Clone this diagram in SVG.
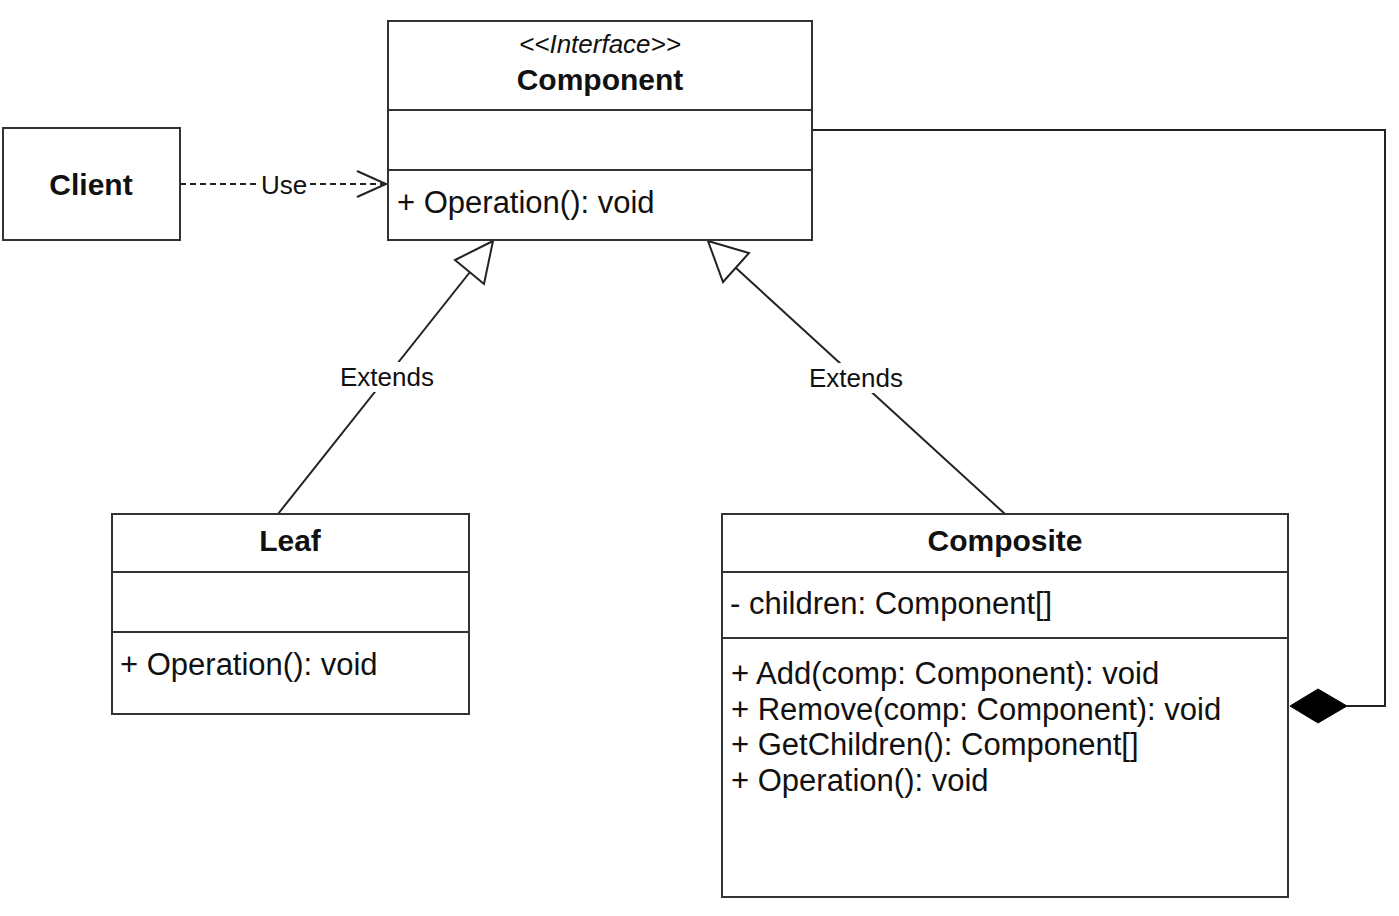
<svg xmlns="http://www.w3.org/2000/svg" width="1399" height="916" viewBox="0 0 1399 916">
<style>
.box{fill:#fff;stroke:#333;stroke-width:2}
.div{stroke:#333;stroke-width:2}
.t{font-family:"Liberation Sans",Arial,sans-serif;fill:#111}
.b{font-weight:bold;font-size:30px}
.m{font-size:31px}
.l{font-size:26px}
.line{fill:none;stroke:#222;stroke-width:2}
</style>
<rect width="1399" height="916" fill="#fff"/>
<g id="connectors">
  <line class="line" x1="180" y1="184" x2="386" y2="184" stroke-dasharray="6,4"/>
  <polyline class="line" points="357,171 386,184 357,197"/>
  <rect x="258" y="170" width="52" height="28" fill="#fff"/>
  <text class="t l" x="284" y="194" text-anchor="middle">Use</text>

  <line class="line" x1="278" y1="514" x2="470" y2="272"/>
  <polygon class="line" fill="#fff" points="493,241 455,260 484,284"/>
  <rect x="336" y="362" width="102" height="30" fill="#fff"/>
  <text class="t l" x="387" y="386" text-anchor="middle">Extends</text>

  <line class="line" x1="1005" y1="514" x2="736" y2="268"/>
  <polygon class="line" fill="#fff" points="708,241 749,253 723,282"/>
  <rect x="805" y="363" width="102" height="30" fill="#fff"/>
  <text class="t l" x="856" y="387" text-anchor="middle">Extends</text>

  <polyline class="line" points="812,130 1385,130 1385,706 1347,706"/>
  <polygon fill="#000" stroke="#000" stroke-width="1" points="1290,706 1318,689 1347,706 1318,723"/>
</g>
<g id="component">
  <rect class="box" x="388" y="21" width="424" height="219"/>
  <line class="div" x1="388" y1="110" x2="812" y2="110"/>
  <line class="div" x1="388" y1="170" x2="812" y2="170"/>
  <text class="t l" x="600" y="53" text-anchor="middle" font-style="italic" font-size="24">&lt;&lt;Interface&gt;&gt;</text>
  <text class="t b" x="600" y="90" text-anchor="middle">Component</text>
  <text class="t m" x="397" y="213">+ Operation(): void</text>
</g>
<g id="client">
  <rect class="box" x="3" y="128" width="177" height="112"/>
  <text class="t b" x="91" y="195" text-anchor="middle" font-size="29">Client</text>
</g>
<g id="leaf">
  <rect class="box" x="112" y="514" width="357" height="200"/>
  <line class="div" x1="112" y1="572" x2="469" y2="572"/>
  <line class="div" x1="112" y1="632" x2="469" y2="632"/>
  <text class="t b" x="290" y="551" text-anchor="middle">Leaf</text>
  <text class="t m" x="120" y="675">+ Operation(): void</text>
</g>
<g id="composite">
  <rect class="box" x="722" y="514" width="566" height="383"/>
  <line class="div" x1="722" y1="572" x2="1288" y2="572"/>
  <line class="div" x1="722" y1="638" x2="1288" y2="638"/>
  <text class="t b" x="1005" y="551" text-anchor="middle">Composite</text>
  <text class="t m" x="730" y="614">- children: Component[]</text>
  <text class="t m" x="731" y="684">+ Add(comp: Component): void</text>
  <text class="t m" x="731" y="720">+ Remove(comp: Component): void</text>
  <text class="t m" x="731" y="755">+ GetChildren(): Component[]</text>
  <text class="t m" x="731" y="791">+ Operation(): void</text>
</g>
</svg>
